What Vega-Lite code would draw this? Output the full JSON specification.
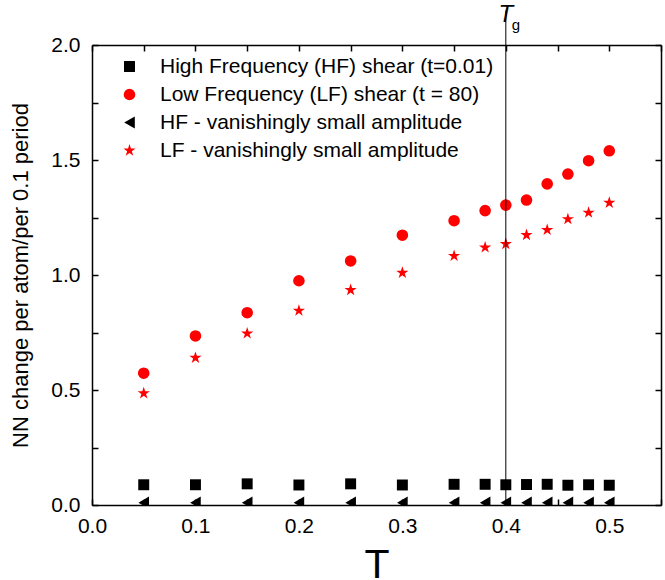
{
  "$schema": "https://vega.github.io/schema/vega-lite/v6.json",
  "width": 569,
  "height": 460,
  "autosize": {"type": "none"},
  "padding": {"left": 92, "top": 45, "right": 4, "bottom": 75},
  "config": {
    "view": {"stroke": null},
    "font": "Liberation Sans",
    "axis": {"labelFont": "Liberation Sans", "titleFont": "Liberation Sans", "labelColor": "#000", "titleColor": "#000", "domainColor": "#000", "tickColor": "#000", "domainWidth": 1.5, "tickWidth": 1.5, "grid": false, "titleFontWeight": "normal"},
    "legend": {"labelFont": "Liberation Sans", "labelColor": "#000"}
  },
  "layer": [
    {
      "data": {"values": [
        {"T": 0.05, "v": 0.088, "s": "High Frequency (HF) shear (t=0.01)"},
        {"T": 0.10, "v": 0.088, "s": "High Frequency (HF) shear (t=0.01)"},
        {"T": 0.15, "v": 0.092, "s": "High Frequency (HF) shear (t=0.01)"},
        {"T": 0.20, "v": 0.087, "s": "High Frequency (HF) shear (t=0.01)"},
        {"T": 0.25, "v": 0.092, "s": "High Frequency (HF) shear (t=0.01)"},
        {"T": 0.30, "v": 0.087, "s": "High Frequency (HF) shear (t=0.01)"},
        {"T": 0.35, "v": 0.090, "s": "High Frequency (HF) shear (t=0.01)"},
        {"T": 0.38, "v": 0.090, "s": "High Frequency (HF) shear (t=0.01)"},
        {"T": 0.40, "v": 0.088, "s": "High Frequency (HF) shear (t=0.01)"},
        {"T": 0.42, "v": 0.089, "s": "High Frequency (HF) shear (t=0.01)"},
        {"T": 0.44, "v": 0.090, "s": "High Frequency (HF) shear (t=0.01)"},
        {"T": 0.46, "v": 0.086, "s": "High Frequency (HF) shear (t=0.01)"},
        {"T": 0.48, "v": 0.088, "s": "High Frequency (HF) shear (t=0.01)"},
        {"T": 0.50, "v": 0.086, "s": "High Frequency (HF) shear (t=0.01)"},
        {"T": 0.05, "v": 0.573, "s": "Low Frequency (LF) shear (t = 80)"},
        {"T": 0.10, "v": 0.735, "s": "Low Frequency (LF) shear (t = 80)"},
        {"T": 0.15, "v": 0.836, "s": "Low Frequency (LF) shear (t = 80)"},
        {"T": 0.20, "v": 0.975, "s": "Low Frequency (LF) shear (t = 80)"},
        {"T": 0.25, "v": 1.061, "s": "Low Frequency (LF) shear (t = 80)"},
        {"T": 0.30, "v": 1.173, "s": "Low Frequency (LF) shear (t = 80)"},
        {"T": 0.35, "v": 1.236, "s": "Low Frequency (LF) shear (t = 80)"},
        {"T": 0.38, "v": 1.280, "s": "Low Frequency (LF) shear (t = 80)"},
        {"T": 0.40, "v": 1.304, "s": "Low Frequency (LF) shear (t = 80)"},
        {"T": 0.42, "v": 1.326, "s": "Low Frequency (LF) shear (t = 80)"},
        {"T": 0.44, "v": 1.396, "s": "Low Frequency (LF) shear (t = 80)"},
        {"T": 0.46, "v": 1.439, "s": "Low Frequency (LF) shear (t = 80)"},
        {"T": 0.48, "v": 1.497, "s": "Low Frequency (LF) shear (t = 80)"},
        {"T": 0.50, "v": 1.540, "s": "Low Frequency (LF) shear (t = 80)"},
        {"T": 0.05, "v": 0.01, "s": "HF - vanishingly small amplitude"},
        {"T": 0.10, "v": 0.01, "s": "HF - vanishingly small amplitude"},
        {"T": 0.15, "v": 0.01, "s": "HF - vanishingly small amplitude"},
        {"T": 0.20, "v": 0.01, "s": "HF - vanishingly small amplitude"},
        {"T": 0.25, "v": 0.01, "s": "HF - vanishingly small amplitude"},
        {"T": 0.30, "v": 0.01, "s": "HF - vanishingly small amplitude"},
        {"T": 0.35, "v": 0.01, "s": "HF - vanishingly small amplitude"},
        {"T": 0.38, "v": 0.01, "s": "HF - vanishingly small amplitude"},
        {"T": 0.40, "v": 0.01, "s": "HF - vanishingly small amplitude"},
        {"T": 0.42, "v": 0.01, "s": "HF - vanishingly small amplitude"},
        {"T": 0.44, "v": 0.01, "s": "HF - vanishingly small amplitude"},
        {"T": 0.46, "v": 0.01, "s": "HF - vanishingly small amplitude"},
        {"T": 0.48, "v": 0.01, "s": "HF - vanishingly small amplitude"},
        {"T": 0.50, "v": 0.01, "s": "HF - vanishingly small amplitude"},
        {"T": 0.05, "v": 0.486, "s": "LF - vanishingly small amplitude"},
        {"T": 0.10, "v": 0.640, "s": "LF - vanishingly small amplitude"},
        {"T": 0.15, "v": 0.746, "s": "LF - vanishingly small amplitude"},
        {"T": 0.20, "v": 0.845, "s": "LF - vanishingly small amplitude"},
        {"T": 0.25, "v": 0.935, "s": "LF - vanishingly small amplitude"},
        {"T": 0.30, "v": 1.010, "s": "LF - vanishingly small amplitude"},
        {"T": 0.35, "v": 1.083, "s": "LF - vanishingly small amplitude"},
        {"T": 0.38, "v": 1.120, "s": "LF - vanishingly small amplitude"},
        {"T": 0.40, "v": 1.135, "s": "LF - vanishingly small amplitude"},
        {"T": 0.42, "v": 1.174, "s": "LF - vanishingly small amplitude"},
        {"T": 0.44, "v": 1.196, "s": "LF - vanishingly small amplitude"},
        {"T": 0.46, "v": 1.243, "s": "LF - vanishingly small amplitude"},
        {"T": 0.48, "v": 1.271, "s": "LF - vanishingly small amplitude"},
        {"T": 0.50, "v": 1.314, "s": "LF - vanishingly small amplitude"}
      ]},
      "mark": {"type": "point", "filled": true, "opacity": 1, "clip": true},
      "encoding": {
        "x": {"field": "T", "type": "quantitative",
          "scale": {"domain": [0, 0.55], "nice": false, "zero": false},
          "axis": {"orient": "bottom", "title": "T", "titleFontSize": 41, "titlePadding": 9,
            "values": [0, 0.05, 0.1, 0.15, 0.2, 0.25, 0.3, 0.35, 0.4, 0.45, 0.5, 0.55],
            "labelExpr": "abs(datum.value*10 - round(datum.value*10)) < 0.01 ? format(datum.value, '.1f') : ''",
            "labelFontSize": 21, "tickSize": -6, "labelPadding": 16, "labelFlush": false, "labelOverlap": false}},
        "y": {"field": "v", "type": "quantitative",
          "scale": {"domain": [0, 2], "nice": false, "zero": false},
          "axis": {"orient": "left", "title": "NN change per atom/per 0.1 period", "titleFontSize": 22, "titlePadding": 18,
            "values": [0, 0.25, 0.5, 0.75, 1, 1.25, 1.5, 1.75, 2],
            "labelExpr": "abs(datum.value*2 - round(datum.value*2)) < 0.01 ? format(datum.value, '.1f') : ''",
            "labelFontSize": 21, "tickSize": -6, "labelPadding": 18, "labelFlush": false, "labelOverlap": false}},
        "shape": {"field": "s", "type": "nominal",
          "scale": {"domain": ["High Frequency (HF) shear (t=0.01)", "Low Frequency (LF) shear (t = 80)", "HF - vanishingly small amplitude", "LF - vanishingly small amplitude"],
            "range": ["square", "circle", "triangle-left", "M0,-1L0.225,-0.309L0.951,-0.309L0.363,0.118L0.588,0.809L0,0.382L-0.588,0.809L-0.363,0.118L-0.951,-0.309L-0.225,-0.309Z"]},
          "legend": {"orient": "none", "legendX": 27, "legendY": 11, "title": null, "labelFontSize": 21, "labelLimit": 0, "labelOffset": 20, "rowPadding": 6, "padding": 0, "symbolStrokeWidth": 0}},
        "color": {"field": "s", "type": "nominal",
          "scale": {"domain": ["High Frequency (HF) shear (t=0.01)", "Low Frequency (LF) shear (t = 80)", "HF - vanishingly small amplitude", "LF - vanishingly small amplitude"],
            "range": ["#000000", "#ff0000", "#000000", "#ff0000"]}},
        "size": {"field": "s", "type": "nominal",
          "scale": {"domain": ["High Frequency (HF) shear (t=0.01)", "Low Frequency (LF) shear (t = 80)", "HF - vanishingly small amplitude", "LF - vanishingly small amplitude"],
            "range": [120, 165, 200, 220]}}
      }
    },
    {
      "data": {"values": [{}]},
      "mark": {"type": "rule", "color": "#000", "strokeWidth": 1, "clip": false},
      "encoding": {
        "x": {"datum": 0.4, "type": "quantitative",
          "axis": {"orient": "top", "title": null, "labels": false,
            "values": [0, 0.05, 0.1, 0.15, 0.2, 0.25, 0.3, 0.35, 0.4, 0.45, 0.5, 0.55], "tickSize": -6}},
        "y": {"datum": 0, "type": "quantitative",
          "axis": {"orient": "right", "title": null, "labels": false,
            "values": [0, 0.25, 0.5, 0.75, 1, 1.25, 1.5, 1.75, 2], "tickSize": -6}},
        "y2": {"datum": 2.15}
      }
    },
    {
      "data": {"values": [{}]},
      "mark": {"type": "text", "text": "T", "fontStyle": "italic", "fontSize": 24, "align": "center", "baseline": "alphabetic", "dx": 0, "clip": false, "color": "#000"},
      "encoding": {
        "x": {"datum": 0.4, "type": "quantitative", "axis": null},
        "y": {"datum": 2.1, "type": "quantitative", "axis": null}
      }
    },
    {
      "data": {"values": [{}]},
      "mark": {"type": "text", "text": "g", "fontSize": 15, "align": "left", "baseline": "alphabetic", "dx": 6, "clip": false, "color": "#000"},
      "encoding": {
        "x": {"datum": 0.4, "type": "quantitative", "axis": null},
        "y": {"datum": 2.065, "type": "quantitative", "axis": null}
      }
    }
  ],
  "resolve": {"axis": {"x": "independent", "y": "independent"}}
}
